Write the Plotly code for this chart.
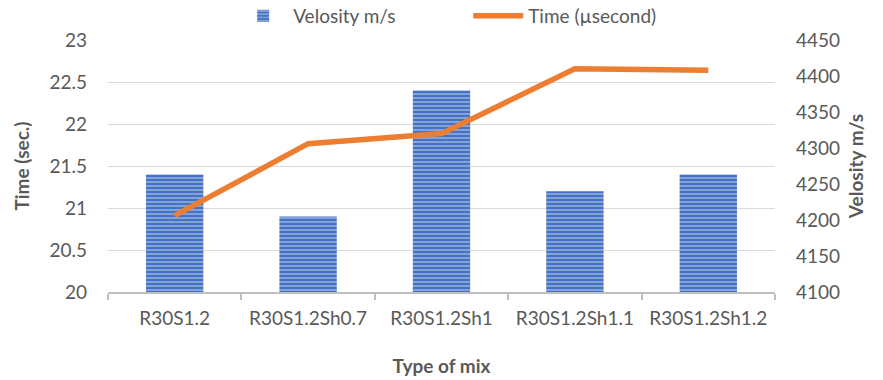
import plotly.graph_objects as go

mixes = ["R30S1.2", "R30S1.2Sh0.7", "R30S1.2Sh1", "R30S1.2Sh1.1", "R30S1.2Sh1.2"]
velocity_bars = [21.4, 20.9, 22.4, 21.2, 21.4]
time_line = [4206, 4306, 4320, 4410, 4408]

left_ticks = [20, 20.5, 21, 21.5, 22, 22.5, 23]
right_ticks = [4100, 4150, 4200, 4250, 4300, 4350, 4400, 4450]

FONT = "Lato, Open Sans, sans-serif"
GREY = "#595959"

fig = go.Figure()
fig.add_trace(go.Bar(
    x=mixes, y=velocity_bars, name="Velosity m/s",
    marker=dict(
        color="#4472C4",
        line=dict(width=0),
        pattern=dict(shape="-", fgcolor="#e3eaf7", bgcolor="#4472C4",
                     size=4, solidity=0.4, fillmode="overlay"),
    ),
    yaxis="y",
))
fig.add_trace(go.Scatter(
    x=mixes, y=time_line, name="Time (µsecond)", mode="lines",
    line=dict(color="#ED7D31", width=5.5),
    yaxis="y2",
))

fig.update_layout(
    width=883, height=380,
    margin=dict(l=108, r=108, t=40, b=88, autoexpand=False),
    paper_bgcolor="white", plot_bgcolor="white",
    font=dict(family=FONT, color=GREY, size=19),
    bargap=0.57,
    showlegend=True,
    legend=dict(orientation="h", x=0.54, xanchor="center", y=1.02, yanchor="bottom",
                font=dict(size=19, color=GREY), itemwidth=50, entrywidth=170,
                traceorder="normal"),
    xaxis=dict(
        type="category", showgrid=False, showline=True, linecolor="#BFBFBF", linewidth=1.5,
        ticks="outside", tickson="boundaries", ticklen=6, tickcolor="#BFBFBF", tickwidth=1.5,
        tickfont=dict(size=19, color=GREY), ticklabelstandoff=8,
        title=dict(text="<b>Type of mix</b>", font=dict(size=19, color=GREY), standoff=32),
    ),
    yaxis=dict(
        range=[20, 23], tickvals=left_ticks, ticktext=[f"{v:g}" for v in left_ticks],
        showgrid=True, gridcolor="#D9D9D9", gridwidth=1.2, zeroline=False, showline=False,
        tickfont=dict(size=19, color=GREY), ticks="", ticklabelstandoff=20,
        title=dict(text="<b>Time (sec.)</b>", font=dict(size=19, color=GREY), standoff=14),
    ),
    yaxis2=dict(
        range=[4100, 4450], tickvals=right_ticks, overlaying="y", side="right",
        showgrid=False, zeroline=False, showline=False,
        tickfont=dict(size=19, color=GREY), ticks="", ticklabelstandoff=20,
        title=dict(text="<b>Velosity m/s</b>", font=dict(size=19, color=GREY), standoff=10),
    ),
)

fig.write_html("out.html")
